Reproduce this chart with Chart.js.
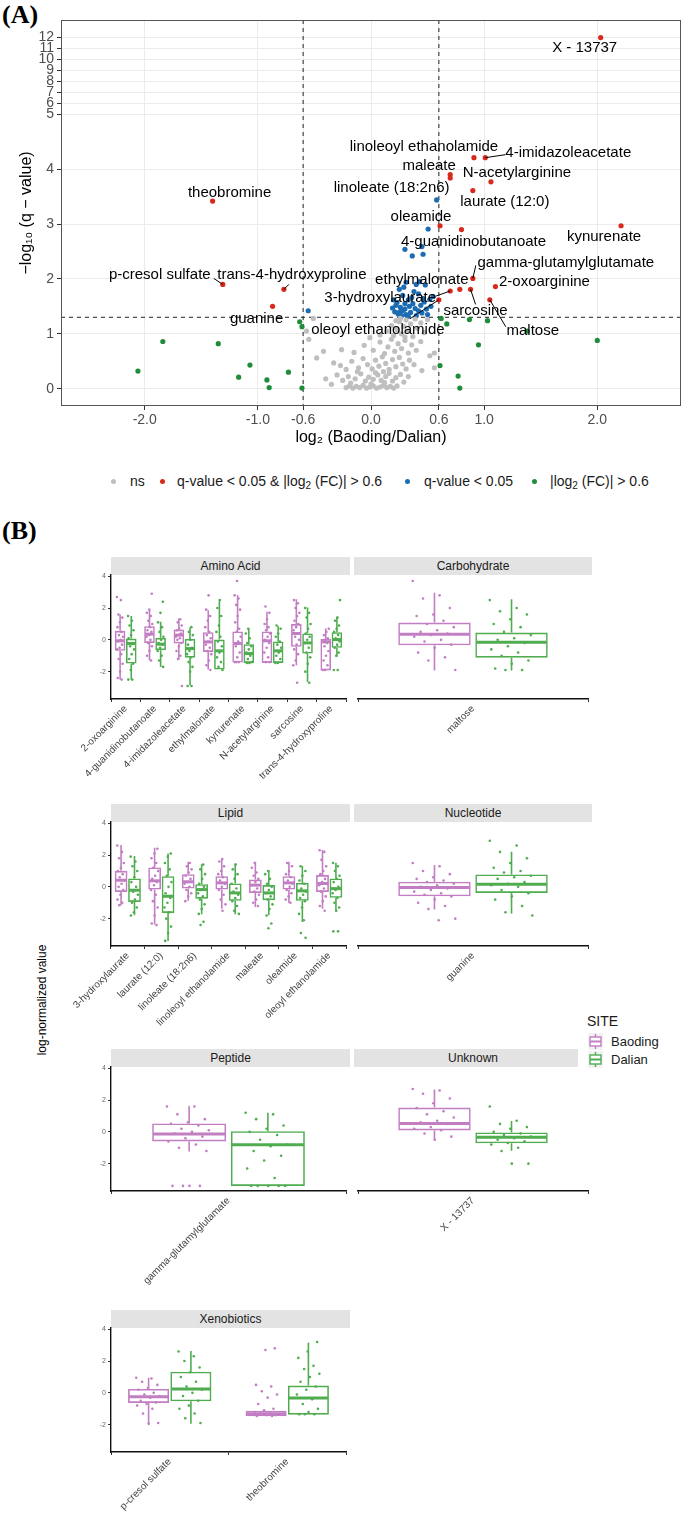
<!DOCTYPE html>
<html lang="en">
<head>
<meta charset="UTF-8">
<title>Volcano plot and metabolite boxplots</title>
<style>
  body { margin: 0; background: #fff; font-family: "Liberation Sans", Arial, sans-serif; }
  #page { position: relative; width: 685px; height: 1524px; overflow: hidden; }
  canvas, .abs { position: absolute; }
  .tag { font-family: "Liberation Serif", "Times New Roman", serif; font-weight: bold; font-size: 26px; }
  .strip { background: #e3e3e3; font-size: 12px; color: #1a1a1a; text-align: center; line-height: 18px; height: 18px; }
  .lg { font-size: 14px; color: #1a1a1a; line-height: 18px; white-space: nowrap; }
  .lg sub { font-size: 10px; vertical-align: -3px; line-height: 0; }
  .dot { width: 5px; height: 5px; border-radius: 50%; }
</style>
</head>
<body>
<div id="page">
  <div class="abs tag" style="left:2px; top:0px;">(A)</div>
  <canvas id="volcano" width="685" height="460" style="left:0; top:0;"></canvas>

  <div class="abs dot" style="left:111px; top:479px; background:#bfbfbf;"></div>
  <div class="abs lg" style="left:130px; top:472px;">ns</div>
  <div class="abs dot" style="left:160px; top:479px; background:#d9291c;"></div>
  <div class="abs lg" style="left:177px; top:472px;">q-value &lt; 0.05 &amp; |log<sub>2</sub> (FC)| &gt; 0.6</div>
  <div class="abs dot" style="left:405px; top:479px; background:#1b6cb3;"></div>
  <div class="abs lg" style="left:424px; top:472px;">q-value &lt; 0.05</div>
  <div class="abs dot" style="left:532px; top:479px; background:#1e8c3a;"></div>
  <div class="abs lg" style="left:550px; top:472px;">|log<sub>2</sub> (FC)| &gt; 0.6</div>

  <div class="abs tag" style="left:2px; top:516px;">(B)</div>
  <div class="abs" style="left:42px; top:1000px; transform:translate(-50%,-50%) rotate(-90deg); font-size:12px; white-space:nowrap;">log-normalized value</div>

  <div class="abs strip" style="left:111px; top:557px; width:239px;">Amino Acid</div>
  <div class="abs strip" style="left:354px; top:557px; width:238px;">Carbohydrate</div>
  <div class="abs strip" style="left:111px; top:804px; width:239px;">Lipid</div>
  <div class="abs strip" style="left:354px; top:804px; width:238px;">Nucleotide</div>
  <div class="abs strip" style="left:111px; top:1049px; width:239px;">Peptide</div>
  <div class="abs strip" style="left:354px; top:1049px; width:238px;">Unknown</div>
  <div class="abs strip" style="left:111px; top:1310px; width:239px;">Xenobiotics</div>

  <canvas id="amino" width="350" height="232" style="left:0; top:567px;"></canvas>
  <canvas id="carbo" width="238" height="232" style="left:354px; top:567px;"></canvas>
  <canvas id="lipid" width="350" height="232" style="left:0; top:814px;"></canvas>
  <canvas id="nucleo" width="238" height="232" style="left:354px; top:814px;"></canvas>
  <canvas id="peptide" width="350" height="232" style="left:0; top:1059px;"></canvas>
  <canvas id="unknown" width="238" height="232" style="left:354px; top:1059px;"></canvas>
  <canvas id="xeno" width="350" height="232" style="left:0; top:1320px;"></canvas>

  <div class="abs" style="left:578px; top:1000px; width:107px; height:80px; background:#fff;"></div>
  <div class="abs lg" style="left:587px; top:1012px;">SITE</div>
  <svg class="abs" style="left:588px; top:1033px;" width="15" height="17">
    <rect x="0" y="0" width="15" height="17" fill="#f2f2f2"/>
    <line x1="7.5" y1="1" x2="7.5" y2="16" stroke="#c27ec2" stroke-width="1.4"/>
    <rect x="2" y="4" width="11" height="9" fill="#fff" stroke="#c27ec2" stroke-width="1.4"/>
    <line x1="2" y1="8.5" x2="13" y2="8.5" stroke="#c27ec2" stroke-width="2"/>
  </svg>
  <svg class="abs" style="left:588px; top:1051px;" width="15" height="17">
    <rect x="0" y="0" width="15" height="17" fill="#f2f2f2"/>
    <line x1="7.5" y1="1" x2="7.5" y2="16" stroke="#4fad50" stroke-width="1.4"/>
    <rect x="2" y="4" width="11" height="9" fill="#fff" stroke="#4fad50" stroke-width="1.4"/>
    <line x1="2" y1="8.5" x2="13" y2="8.5" stroke="#4fad50" stroke-width="2"/>
  </svg>
  <div class="abs lg" style="left:611px; top:1033px; font-size:13px;">Baoding</div>
  <div class="abs lg" style="left:611px; top:1051px; font-size:13px;">Dalian</div>
</div>

<script src="https://cdn.jsdelivr.net/npm/chart.js"></script>
<script>
// ---------- panel A data: log2 fold change and -log10 q ----------
const xTicks = [-2, -1, -0.6, 0, 0.6, 1, 2];
const yTicks = [0, 1, 2, 3, 4, 5, 6, 7, 8, 9, 10, 11, 12];

const bothX = [2.03, -1.40, 0.91, 1.01, 0.70, 0.70, 1.06, 0.90, 0.61, 0.80, 2.21, 0.90, 1.10, 0.785, 0.88, 1.05, 0.70, 0.60, -1.31, -0.77, -0.87];
const bothY = [12.0, 3.42, 4.21, 4.21, 3.90, 3.84, 3.77, 3.61, 2.97, 2.90, 2.97, 2.01, 1.86, 1.81, 1.81, 1.62, 1.78, 1.62, 1.90, 1.81, 1.50];
const bothNames = ['X - 13737', 'theobromine', 'linoleoyl ethanolamide', '4-imidazoleacetate', 'maleate', '', 'N-acetylarginine',
  'laurate (12:0)', 'oleamide', '4-guanidinobutanoate', 'kynurenate', 'gamma-glutamylglutamate', '2-oxoarginine', 'ethylmalonate',
  'sarcosine', 'maltose', '3-hydroxylaurate', 'oleoyl ethanolamide', 'p-cresol sulfate', 'trans-4-hydroxyproline', 'guanine'];

const qX = [0.58, 0.505, 0.30, 0.45, 0.365, 0.46, -0.555, 0.31, 0.43, 0.48, 0.25, 0.38, 0.42, 0.55, 0.20, 0.28, 0.33, 0.36, 0.47, 0.52,
  0.22, 0.26, 0.30, 0.34, 0.39, 0.44, 0.49, 0.21, 0.24, 0.28, 0.31, 0.35, 0.40, 0.45, 0.50, 0.19, 0.27, 0.37, 0.33, 0.42, 0.23, 0.30,
  0.25, 0.46, 0.53, 0.29, 0.40];
const qY = [3.44, 2.91, 2.54, 2.59, 2.42, 2.45, 1.42, 1.94, 1.95, 1.89, 1.81, 1.77, 1.73, 1.68, 1.62, 1.70, 1.62, 1.66, 1.58, 1.63,
  1.52, 1.48, 1.55, 1.50, 1.46, 1.52, 1.45, 1.40, 1.36, 1.42, 1.35, 1.39, 1.33, 1.38, 1.35, 1.47, 1.33, 1.55, 1.32, 1.42, 1.57, 1.45,
  1.39, 1.64, 1.50, 1.85, 1.90];
const qNames = ['linoleate (18:2n6)'];

const fcX = [-2.06, -1.84, -1.35, -1.07, -1.17, -0.92, -0.90, -0.73, -0.63, -0.61, -0.61, 0.61, 0.62, 0.67, 0.77, 0.785, 0.87, 0.95, 1.03, 1.38, 2.00];
const fcY = [0.32, 0.86, 0.82, 0.43, 0.21, 0.16, 0.02, 0.30, 1.22, 1.13, 0.01, 0.42, 1.28, 1.18, 0.23, 0.01, 1.26, 0.80, 1.24, 1.05, 0.88];

const nsX = [-0.22, -0.19, -0.16, -0.13, -0.10, -0.07, -0.04, -0.01, 0.02, 0.05, 0.08, 0.11, 0.14, 0.17, 0.20, 0.23, -0.18, 0.00, 0.12, -0.35,
  -0.25, -0.20, -0.14, -0.09, -0.05, -0.02, 0.02, 0.06, 0.09, 0.13, 0.16, 0.19, 0.22, 0.26, 0.29, -0.30, -0.40, 0.04, 0.11, -0.12, 0.33,
  -0.27, -0.22, -0.17, -0.11, -0.07, -0.03, 0.01, 0.04, 0.07, 0.10, 0.13, 0.16, 0.19, 0.22, 0.25, 0.28, 0.31, 0.34, 0.38, -0.48, -0.33, 0.45, 0.56, 0.52,
  -0.55, -0.42, -0.26, -0.15, -0.06, 0.02, 0.08, 0.12, 0.15, 0.18, 0.21, 0.24, 0.27, 0.30, 0.33, 0.36, 0.40, 0.44, 0.56, -0.01,
  -0.51, -0.57, 0.08, 0.14, 0.18, 0.20, 0.23, 0.25, 0.27, 0.29, 0.31, 0.33, 0.35, 0.37, 0.39, 0.41, 0.44, 0.47, 0.50, 0.26, 0.30, 0.22];
const nsY = [0.02, 0.05, 0.01, 0.04, 0.02, 0.06, 0.01, 0.03, 0.05, 0.01, 0.03, 0.06, 0.02, 0.04, 0.01, 0.05, 0.10, 0.09, 0.11, 0.08,
  0.15, 0.22, 0.18, 0.27, 0.14, 0.21, 0.17, 0.25, 0.15, 0.22, 0.28, 0.14, 0.20, 0.26, 0.12, 0.25, 0.18, 0.29, 0.31, 0.31, 0.22,
  0.42, 0.35, 0.50, 0.38, 0.55, 0.44, 0.36, 0.52, 0.41, 0.58, 0.46, 0.35, 0.53, 0.40, 0.57, 0.45, 0.36, 0.52, 0.44, 0.56, 0.47, 0.33, 0.38, 0.60,
  0.90, 0.68, 0.71, 0.66, 0.79, 0.70, 0.85, 0.64, 0.76, 0.90, 0.68, 0.82, 0.73, 0.88, 0.65, 0.80, 0.70, 0.86, 0.65, 0.93,
  1.28, 1.05, 0.98, 1.05, 1.15, 0.97, 1.08, 1.22, 1.00, 1.13, 1.25, 1.05, 1.18, 0.95, 1.27, 1.10, 1.20, 1.02, 1.26, 1.28, 0.94, 1.24];

// ---------- panel B data: [min, q1, median, q3, max] and observed points ----------
const aminoCats = ['2-oxoarginine', '4-guanidinobutanoate', '4-imidazoleacetate', 'ethylmalonate', 'kynurenate', 'N-acetylarginine', 'sarcosine', 'trans-4-hydroxyproline'];
const aminoBaoding = [[-2.5, -0.69, -0.06, 0.57, 1.6], [-1.28, -0.19, 0.36, 0.86, 1.9], [-1.24, -0.23, 0.3, 0.65, 1.35], [-1.87, -0.76, -0.13, 0.48, 1.87],
  [-1.43, -1.43, -0.23, 0.53, 2.82], [-1.45, -1.45, -0.06, 0.53, 1.77], [-1.6, -0.44, 0.4, 0.99, 2.55], [-1.92, -1.92, -0.13, 0.06, 0.72]];
const aminoDalian = [[-2.5, -1.49, -0.23, 0.08, 1.5], [-1.7, -0.65, -0.27, 0.13, 1.14], [-2.86, -1.12, -0.55, 0.06, 0.78], [-1.87, -1.87, -0.69, 0.02, 2.46],
  [-1.45, -1.45, -0.86, -0.27, 0.72], [-1.45, -1.45, -0.69, -0.1, 0.86], [-2.65, -0.86, -0.19, 0.4, 2.04], [-1.07, -0.5, 0.02, 0.48, 1.45]];
const aminoBaodingPts = [
  [2.7, 2.5, 1.6, 1.4, 1.1, 0.8, 0.5, 0.3, 0.2, 0, -0.1, -0.3, -0.5, -0.6, -0.9, -1.2, -1.5, -2.0, -2.4, -2.5],
  [2.9, 1.9, 1.7, 1.5, 1.2, 1.0, 0.8, 0.6, 0.5, 0.3, 0.2, 0, -0.2, -0.4, -0.7, -1.0, -1.3],
  [1.3, 1.1, 0.9, 0.7, 0.6, 0.4, 0.3, 0.2, 0.1, 0, -0.2, -0.4, -0.7, -1.0, -1.2, -2.9],
  [2.8, 1.9, 1.5, 1.2, 0.8, 0.5, 0.3, 0.1, -0.1, -0.3, -0.5, -0.7, -0.9, -1.3, -1.6, -1.9],
  [3.7, 2.8, 2.6, 2.2, 1.9, 1.5, 1.1, 0.7, 0.5, 0.2, -0.1, -0.4, -0.8, -1.1, -1.4, -1.4, -1.4],
  [2.1, 1.7, 1.3, 1.0, 0.8, 0.6, 0.4, 0.2, 0, -0.2, -0.5, -0.8, -1.1, -1.4, -1.4],
  [2.5, 2.3, 2.0, 1.7, 1.5, 1.2, 1.0, 0.8, 0.6, 0.4, 0.2, 0, -0.3, -0.6, -0.9, -1.3, -1.6, -2.7],
  [0.7, 0.5, 0.3, 0.1, 0, -0.1, -0.2, -0.4, -0.7, -1.0, -1.3, -1.6, -1.9, -1.9]];
const aminoDalianPts = [
  [1.5, 1.2, 0.9, 0.6, 0.3, 0.1, -0.2, -0.4, -0.6, -0.9, -1.2, -1.5, -1.9, -2.5, -2.5],
  [2.4, 1.7, 1.1, 0.8, 0.5, 0.2, 0, -0.2, -0.3, -0.5, -0.7, -1.0, -1.3, -1.7],
  [0.8, 0.5, 0.3, 0, -0.3, -0.5, -0.7, -0.9, -1.1, -1.4, -1.7, -2.0, -2.9, -2.9],
  [2.5, 2.0, 1.5, 0.9, 0.5, 0.2, -0.1, -0.4, -0.8, -1.1, -1.4, -1.7, -1.9],
  [0.7, 0.4, 0.1, -0.2, -0.4, -0.6, -0.8, -1.0, -1.2, -1.4, -1.45, -1.45],
  [0.9, 0.7, 0.4, 0.2, -0.1, -0.3, -0.5, -0.8, -1.0, -1.2, -1.45, -1.45],
  [2.0, 1.7, 1.4, 1.0, 0.7, 0.4, 0.2, 0, -0.2, -0.5, -0.8, -1.1, -1.5, -2.0, -2.7],
  [2.5, 1.4, 1.2, 0.9, 0.7, 0.5, 0.3, 0.1, -0.1, -0.3, -0.5, -0.8, -1.0, -1.9, -1.9]];

const carboCats = ['maltose'];
const carboBaoding = [[-1.92, -0.34, 0.36, 1.09, 2.97]];
const carboDalian = [[-1.92, -1.12, -0.15, 0.46, 2.55]];
const carboBaodingPts = [[3.7, 2.8, 2.6, 2.0, 1.6, 1.5, 1.2, 1.0, 0.8, 0.6, 0.5, 0.4, 0.3, 0.2, 0, -0.1, -0.3, -0.5, -0.8, -1.1, -1.3, -1.9]];
const carboDalianPts = [[2.5, 2.0, 1.8, 1.6, 1.3, 1.0, 0.8, 0.5, 0.3, 0.1, 0, -0.2, -0.4, -0.6, -0.8, -1.0, -1.3, -1.5, -1.8, -1.9, -1.9]];

const lipidCats = ['3-hydroxylaurate', 'laurate (12:0)', 'linoleate (18:2n6)', 'linoleoyl ethanolamide', 'maleate', 'oleamide', 'oleoyl ethanolamide'];
const lipidBaoding = [[-1.16, -0.32, 0.42, 1.01, 2.63], [-2.36, -0.17, 0.38, 1.22, 2.46], [-0.88, -0.11, 0.32, 0.8, 1.58], [-1.37, -0.17, 0.25, 0.67, 1.79],
  [-1.26, -0.38, 0.11, 0.46, 1.58], [-1.01, -0.17, 0.25, 0.67, 1.58], [-1.37, -0.32, 0.21, 0.74, 2.32]];
const lipidDalian = [[-1.79, -0.95, -0.21, 0.53, 1.94], [-3.41, -1.64, -0.59, 0.67, 2.1], [-1.73, -0.74, -0.17, 0.17, 1.43], [-1.73, -0.88, -0.38, 0.21, 1.47],
  [-1.79, -0.84, -0.38, 0.11, 1.05], [-2.21, -0.88, -0.25, 0.25, 1.31], [-1.47, -0.69, -0.11, 0.53, 1.52]];
const lipidBaodingPts = [
  [2.6, 2.2, 1.8, 1.5, 1.2, 1.0, 0.8, 0.6, 0.4, 0.2, 0, -0.2, -0.5, -0.8, -1.0, -1.15],
  [2.4, 2.1, 1.8, 1.5, 1.2, 1.0, 0.7, 0.5, 0.3, 0.1, -0.2, -0.5, -0.9, -1.3, -1.8, -2.3, -2.4],
  [1.5, 1.3, 1.1, 0.9, 0.7, 0.5, 0.3, 0.2, 0, -0.2, -0.4, -0.6, -0.9],
  [1.75, 1.6, 1.3, 1.0, 0.8, 0.6, 0.4, 0.2, 0, -0.2, -0.5, -0.8, -1.1, -1.5],
  [1.5, 1.2, 0.9, 0.7, 0.5, 0.3, 0.1, -0.1, -0.3, -0.5, -0.8, -1.0, -1.2],
  [1.5, 1.3, 1.0, 0.8, 0.6, 0.4, 0.2, 0, -0.2, -0.4, -0.6, -0.8, -1.0],
  [2.3, 2.2, 1.7, 1.3, 1.0, 0.8, 0.5, 0.3, 0.1, -0.1, -0.3, -0.6, -0.9, -1.2, -1.5]];
const lipidDalianPts = [
  [1.9, 1.6, 1.3, 1.0, 0.6, 0.3, 0, -0.3, -0.5, -0.8, -1.0, -1.3, -1.6, -1.8],
  [2.1, 1.9, 1.5, 1.1, 0.7, 0.3, 0, -0.4, -0.7, -1.0, -1.3, -1.6, -2.0, -2.5, -2.9, -3.4],
  [1.4, 1.1, 0.8, 0.5, 0.2, 0, -0.2, -0.4, -0.6, -0.8, -1.1, -1.4, -1.7, -2.2, -2.4],
  [1.4, 1.1, 0.8, 0.5, 0.2, -0.1, -0.3, -0.5, -0.7, -0.9, -1.2, -1.5, -1.7],
  [1.0, 0.8, 0.5, 0.2, 0, -0.2, -0.4, -0.6, -0.8, -1.1, -1.4, -1.8, -2.3, -2.6],
  [1.3, 1.0, 0.7, 0.4, 0.2, -0.1, -0.3, -0.5, -0.7, -0.9, -1.3, -1.7, -2.1, -2.9, -3.2],
  [1.5, 1.3, 1.0, 0.7, 0.5, 0.3, 0, -0.2, -0.4, -0.7, -1.0, -1.3, -1.5, -2.8, -2.8]];

const nucleoCats = ['guanine'];
const nucleoBaoding = [[-1.43, -0.59, -0.04, 0.32, 1.37]];
const nucleoDalian = [[-1.68, -0.38, 0.17, 0.78, 2.21]];
const nucleoBaodingPts = [[1.5, 1.3, 1.0, 0.8, 0.6, 0.5, 0.4, 0.3, 0.2, 0.1, 0, -0.1, -0.2, -0.3, -0.4, -0.5, -0.6, -0.8, -1.0, -1.2, -1.4, -2.0, -2.1]];
const nucleoDalianPts = [[2.9, 2.6, 2.2, 1.8, 1.5, 1.2, 1.0, 0.9, 0.7, 0.6, 0.5, 0.3, 0.2, 0.1, 0, -0.2, -0.4, -0.6, -0.8, -1.2, -1.6, -1.8]];

const peptideCats = ['gamma-glutamylglutamate'];
const peptideBaoding = [[-1.23, -0.6, -0.13, 0.53, 1.64]];
const peptideDalian = [[-3.4, -3.4, -0.81, 0.04, 1.21]];
const peptideBaodingPts = [[1.6, 1.6, 1.1, 0.8, 0.6, 0.5, 0.4, 0.2, 0.1, 0, -0.1, -0.3, -0.4, -0.6, -0.8, -1.0, -1.2, -3.4, -3.4, -3.4, -3.4]];
const peptideDalianPts = [[1.2, 1.1, 0.8, 0.4, 0.2, 0, -0.2, -0.5, -0.8, -0.9, -1.2, -1.5, -1.8, -2.3, -2.9, -3.4, -3.4, -3.4, -3.4, -3.4]];

const unknownCats = ['X - 13737'];
const unknownBaoding = [[-0.49, 0.09, 0.53, 1.53, 2.66]];
const unknownDalian = [[-1.19, -0.72, -0.34, -0.04, 0.68]];
const unknownBaodingPts = [[2.7, 2.6, 2.4, 2.1, 1.8, 1.5, 1.3, 1.1, 0.9, 0.7, 0.6, 0.5, 0.3, 0.2, 0.1, -0.1, -0.3, -0.5]];
const unknownDalianPts = [[1.6, 0.7, 0.5, 0.3, 0.2, 0, -0.1, -0.2, -0.3, -0.4, -0.5, -0.6, -0.7, -0.8, -1.0, -1.2, -2.0, -2.0]];

const xenoCats = ['p-cresol sulfate', 'theobromine'];
const xenoBaoding = [[-1.94, -0.63, -0.25, 0.25, 0.95], [-1.47, -1.47, -1.31, -1.12, -1.12]];
const xenoDalian = [[-1.94, -0.53, 0.25, 1.33, 2.63], [-1.37, -1.37, -0.32, 0.46, 3.16]];
const xenoBaodingPts = [
  [0.95, 0.9, 0.7, 0.5, 0.3, 0.2, 0, -0.1, -0.2, -0.3, -0.5, -0.6, -0.7, -0.8, -1.0, -1.3, -1.9, -1.95],
  [2.8, 2.7, 0.5, 0.4, 0.1, -0.1, -0.3, -0.7, -1.0, -1.1, -1.2, -1.3, -1.3, -1.4, -1.4, -1.45, -1.45]];
const xenoDalianPts = [
  [2.6, 2.3, 2.0, 1.6, 1.3, 1.0, 0.7, 0.4, 0.2, 0, -0.2, -0.5, -0.8, -1.0, -1.3, -1.6, -1.9],
  [3.2, 2.6, 2.2, 1.7, 1.5, 1.2, 1.0, 0.7, 0.4, 0.2, -0.1, -0.4, -0.7, -1.0, -1.2, -1.35, -1.35, -1.35]];

// ---------- styling ----------
const RED = '#d9291c', BLUE = '#1b6cb3', GREEN = '#1e8c3a', GRAY = '#bfbfbf';
const PURPLE = '#c27ec2', DGREEN = '#4fad50';
Chart.defaults.font.family = '"Liberation Sans", Arial, sans-serif';

// where the label text sits relative to its point: [dx, dy, leaderDx, leaderDy]
const labelNudge = {
  'X - 13737': [-16, 10], 'theobromine': [17, -8], 'linoleoyl ethanolamide': [-50, -11],
  '4-imidazoleacetate': [83, -5, 20, -3], 'maleate': [-21, -9], 'N-acetylarginine': [26, -8.5],
  'laurate (12:0)': [32, 11], 'linoleate (18:2n6)': [-45, -12], 'oleamide': [-19, -9],
  '4-guanidinobutanoate': [12, 12], 'kynurenate': [-17, 11], 'gamma-glutamylglutamate': [93, -16, 3, -13],
  '2-oxoarginine': [49, -5], 'ethylmalonate': [-38, -10], 'sarcosine': [5, 21, 5, 15],
  'maltose': [43, 31, 16, 27], '3-hydroxylaurate': [-70, 7, -14, 5], 'oleoyl ethanolamide': [-61, 30, -29, 19],
  'p-cresol sulfate': [-63, -10, -9, -6], 'trans-4-hydroxyproline': [8, -15, 5, -5], 'guanine': [-16, 12]
};

// squeeze the y axis above 5
const tr = v => v <= 5 ? v : 5 + (v - 5) / 5;
const untr = t => t <= 5 ? t : 5 + (t - 5) * 5;
const toPts = (xs, ys) => xs.map((x, i) => ({ x: x, y: tr(ys[i]) }));

const volcanoDecor = {
  id: 'volcanoDecor',
  beforeDatasetsDraw(chart) {
    const { ctx, chartArea: a, scales: { x, y } } = chart;
    ctx.save();
    ctx.strokeStyle = '#222';
    ctx.lineWidth = 1;
    ctx.setLineDash([4, 4]);
    ctx.beginPath();
    [-0.6, 0.6].forEach(v => {
      const px = x.getPixelForValue(v);
      ctx.moveTo(px, a.top); ctx.lineTo(px, a.bottom);
    });
    const py = y.getPixelForValue(tr(-Math.log10(0.05)));
    ctx.moveTo(a.left, py); ctx.lineTo(a.right, py);
    ctx.stroke();
    ctx.restore();
  },
  afterDatasetsDraw(chart) {
    const { ctx } = chart;
    ctx.save();
    ctx.font = '15px "Liberation Sans", Arial, sans-serif';
    ctx.fillStyle = '#000';
    ctx.textAlign = 'center';
    ctx.textBaseline = 'middle';
    ctx.strokeStyle = '#000';
    ctx.lineWidth = 1;
    chart.data.datasets.forEach((ds, di) => {
      if (!ds.names) return;
      const meta = chart.getDatasetMeta(di);
      ds.names.forEach((name, i) => {
        const nudge = labelNudge[name];
        if (!name || !nudge) return;
        const p = meta.data[i];
        if (nudge.length > 2) {
          ctx.beginPath();
          ctx.moveTo(p.x, p.y);
          ctx.lineTo(p.x + nudge[2], p.y + nudge[3]);
          ctx.stroke();
        }
        ctx.fillText(name, p.x + nudge[0], p.y + nudge[1]);
      });
    });
    ctx.restore();
  },
  afterDraw(chart) {
    const { ctx, chartArea: a } = chart;
    ctx.save();
    ctx.strokeStyle = '#555';
    ctx.lineWidth = 1;
    ctx.strokeRect(a.left + 0.5, a.top + 0.5, a.width - 1, a.height - 1);
    ctx.restore();
  }
};

new Chart(document.getElementById('volcano'), {
  type: 'scatter',
  data: {
    datasets: [
      { label: 'ns', data: toPts(nsX, nsY), backgroundColor: GRAY, borderWidth: 0, pointRadius: 2.6 },
      { label: 'q-value < 0.05 & |log2 (FC)| > 0.6', data: toPts(bothX, bothY), names: bothNames, backgroundColor: RED, borderWidth: 0, pointRadius: 2.6 },
      { label: 'q-value < 0.05', data: toPts(qX, qY), names: qNames, backgroundColor: BLUE, borderWidth: 0, pointRadius: 2.6 },
      { label: '|log2 (FC)| > 0.6', data: toPts(fcX, fcY), backgroundColor: GREEN, borderWidth: 0, pointRadius: 2.6 }
    ]
  },
  options: {
    responsive: false,
    animation: false,
    events: [],
    layout: { padding: { top: 20, right: 2, left: 0, bottom: 0 } },
    plugins: { legend: { display: false }, tooltip: { enabled: false } },
    scales: {
      x: {
        type: 'linear', min: -2.74, max: 2.74,
        afterBuildTicks: s => { s.ticks = xTicks.map(v => ({ value: v })); },
        afterFit: s => { s.height = 54; },
        grid: { color: '#ebebeb', lineWidth: 1, tickColor: '#333', tickLength: 4 },
        border: { display: false },
        ticks: { autoSkip: false, maxRotation: 0, padding: 2, color: '#4d4d4d', font: { size: 14 }, callback: v => v.toFixed(1) },
        title: { display: true, text: 'log₂ (Baoding/Dalian)', color: '#000', font: { size: 16 }, padding: { top: 0, bottom: 13 } }
      },
      y: {
        type: 'linear', min: -0.316, max: 6.72,
        afterBuildTicks: s => { s.ticks = yTicks.map(v => ({ value: tr(v) })); },
        afterFit: s => { s.width = 61; },
        grid: { color: '#ebebeb', lineWidth: 1, tickColor: '#333', tickLength: 4 },
        border: { display: false },
        ticks: { autoSkip: false, padding: 3, color: '#4d4d4d', font: { size: 14 }, callback: v => String(Math.round(untr(v))) },
        title: { display: true, text: '−log₁₀ (q − value)', color: '#000', font: { size: 16 }, padding: { top: 17, bottom: 0 } }
      }
    }
  },
  plugins: [volcanoDecor]
});

// ---------- panel B: boxplot facets ----------
const boxParts = {
  id: 'boxParts',
  afterDatasetDraw(chart, args) {
    const ds = chart.data.datasets[args.index];
    if (!ds.stats) return;
    const { ctx } = chart, y = chart.scales.y;
    ctx.save();
    ctx.strokeStyle = ds.borderColor;
    args.meta.data.forEach((bar, i) => {
      const s = ds.stats[i];
      ctx.lineWidth = 1.6;
      ctx.beginPath();
      ctx.moveTo(bar.x, y.getPixelForValue(s[3])); ctx.lineTo(bar.x, y.getPixelForValue(s[4]));
      ctx.moveTo(bar.x, y.getPixelForValue(s[1])); ctx.lineTo(bar.x, y.getPixelForValue(s[0]));
      ctx.stroke();
      ctx.lineWidth = 3;
      ctx.beginPath();
      const my = y.getPixelForValue(s[2]);
      ctx.moveTo(bar.x - bar.width / 2 + 1, my); ctx.lineTo(bar.x + bar.width / 2 - 1, my);
      ctx.stroke();
    });
    ctx.restore();
  }
};

// one linear x axis: category i sits at i, the two sites are dodged by +-shift
function facet(id, cats, bStats, dStats, bPts, dPts, showY, catPct, barPct) {
  const n = cats.length;
  const shift = catPct / 4;
  const spread = catPct / 2 * barPct * 0.6;
  const jitter = (groups, off) => groups.flatMap((vals, i) => vals.map((v, j) => ({
    x: i + off + ((((j + 3 * i) * 0.6180339) % 1) - 0.5) * spread,
    y: v
  })));
  const box = (label, stats, color, off) => ({
    label: label, data: stats.map((s, i) => ({ x: i + off, y: [s[1], s[3]] })), stats: stats,
    borderColor: color, backgroundColor: 'rgba(255,255,255,0)', borderWidth: 1.6, borderSkipped: false,
    grouped: false, categoryPercentage: 1, barPercentage: barPct, order: 3
  });
  const dots = (pts, color) => ({
    type: 'scatter', data: pts, backgroundColor: color, borderWidth: 0, pointRadius: 1.3, order: 1
  });
  const yScale = {
    display: showY, min: -3.72, max: 4.08,
    afterBuildTicks: s => { s.ticks = [-2, 0, 2, 4].map(v => ({ value: v })); },
    grid: { drawOnChartArea: false, tickLength: 3, tickColor: '#333' },
    border: { display: true, color: '#111', width: 1.4 },
    ticks: { padding: 2, color: '#666', font: { size: 7 } }
  };
  if (showY) yScale.afterFit = s => { s.width = 111; };
  new Chart(document.getElementById(id), {
    type: 'bar',
    data: {
      datasets: [
        box('Baoding', bStats, PURPLE, -shift),
        box('Dalian', dStats, DGREEN, shift),
        dots(jitter(bPts, -shift), PURPLE),
        dots(jitter(dPts, shift), DGREEN)
      ]
    },
    options: {
      responsive: false,
      animation: false,
      events: [],
      layout: { padding: { top: 8, left: 0, right: 0, bottom: 0 } },
      plugins: { legend: { display: false }, tooltip: { enabled: false } },
      scales: {
        x: {
          type: 'linear', offset: false, min: -0.5, max: n - 0.5,
          afterBuildTicks: s => { s.ticks = cats.map((c, i) => ({ value: i })); },
          afterFit: s => { s.height = 100; },
          grid: { display: true, drawOnChartArea: false, tickLength: 3, tickColor: '#333' },
          border: { display: true, color: '#111', width: 1.4 },
          ticks: { autoSkip: false, minRotation: 45, maxRotation: 45, padding: 1, color: '#444', font: { size: 10 },
            callback: v => cats[Math.round(v)] }
        },
        y: yScale
      }
    },
    plugins: [boxParts]
  });
}

facet('amino', aminoCats, aminoBaoding, aminoDalian, aminoBaodingPts, aminoDalianPts, true, 0.76, 0.95);
facet('carbo', carboCats, carboBaoding, carboDalian, carboBaodingPts, carboDalianPts, false, 0.67, 0.94);
facet('lipid', lipidCats, lipidBaoding, lipidDalian, lipidBaodingPts, lipidDalianPts, true, 0.8, 0.95);
facet('nucleo', nucleoCats, nucleoBaoding, nucleoDalian, nucleoBaodingPts, nucleoDalianPts, false, 0.67, 0.94);
facet('peptide', peptideCats, peptideBaoding, peptideDalian, peptideBaodingPts, peptideDalianPts, true, 0.67, 0.94);
facet('unknown', unknownCats, unknownBaoding, unknownDalian, unknownBaodingPts, unknownDalianPts, false, 0.67, 0.94);
facet('xeno', xenoCats, xenoBaoding, xenoDalian, xenoBaodingPts, xenoDalianPts, true, 0.72, 0.97);
</script>
</body>
</html>
